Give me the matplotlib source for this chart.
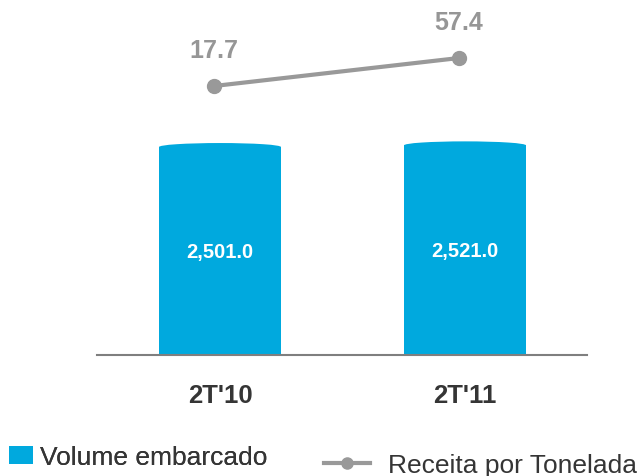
import matplotlib
matplotlib.use("Agg")
import matplotlib.pyplot as plt
from matplotlib.patches import Ellipse, Patch
from matplotlib.lines import Line2D
import numpy as np

plt.rcParams['font.family'] = ['Liberation Sans', 'DejaVu Sans']

periods = ["2T'10", "2T'11"]
volume = [2501.0, 2521.0]
receita = [17.7, 57.4]

bar_color = '#00A9DE'
line_color = '#999999'
text_dark = '#353535'

fig = plt.figure(figsize=(6.41, 4.77), dpi=100)
ax = fig.add_axes([97 / 641, 1 - 356 / 477, 490 / 641, 356 / 477])

x = np.arange(len(periods))
bw = 0.498
bars = ax.bar(x, volume, width=bw, color=bar_color, zorder=2)
# slightly domed bar tops
for xi, v in zip(x, volume):
    ax.add_patch(Ellipse((xi, v), bw, 96, color=bar_color, lw=0, zorder=2))
for xi, v in zip(x, volume):
    ax.text(xi, v / 2, f'{v:,.1f}', ha='center', va='center',
            color='white', fontsize=14.5, fontweight='bold', zorder=3)

ax.set_xlim(-0.502, 1.498)
ax.set_ylim(0, 4281)
ax.set_xticks(x)
ax.set_xticklabels(periods, fontsize=18.5, fontweight='bold', color=text_dark)
ax.tick_params(axis='x', length=0, pad=20)
ax.set_yticks([])
for s in ['top', 'right', 'left']:
    ax.spines[s].set_visible(False)
ax.spines['bottom'].set_color('#7f7f7f')
ax.spines['bottom'].set_linewidth(1.5)
ax.spines['bottom'].set_zorder(3)

ax2 = ax.twinx()
ax2.set_ylim(-363.7, 141.1)
lx = x - 0.025
ax2.plot(lx, receita, color=line_color, lw=3, marker='o', markersize=10,
         solid_capstyle='round')
for xi, v in zip(lx, receita):
    ax2.annotate(f'{v:.1f}', (xi, v), xytext=(0, 26), textcoords='offset points',
                 ha='center', va='center', fontsize=18, fontweight='bold',
                 color='#969696')
ax2.set_yticks([])
for s in ax2.spines.values():
    s.set_visible(False)

leg1 = fig.legend(handles=[Patch(color=bar_color, lw=0)], labels=['Volume embarcado'],
                  loc='center left', bbox_to_anchor=(9 / 641, 1 - 458 / 477),
                  frameon=False, fontsize=19, handlelength=0.91, handleheight=0.68,
                  handletextpad=0.27, borderpad=0, borderaxespad=0, labelcolor=text_dark)
fig.add_artist(leg1)
fig.legend(handles=[Line2D([], [], color=line_color, lw=3, marker='o', markersize=8)],
           labels=['Receita por Tonelada'],
           loc='center left', bbox_to_anchor=(324 / 641, 1 - 466 / 477),
           frameon=False, fontsize=19, handlelength=1.74,
           handletextpad=0.68, borderpad=0, borderaxespad=0, labelcolor=text_dark)

fig.savefig('out.png', dpi=100)
